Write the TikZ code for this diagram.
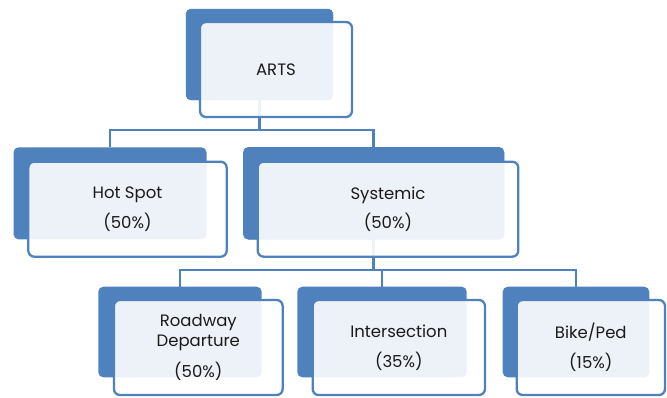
\documentclass[tikz,border=0pt]{standalone}
\usepackage{fontspec}
\setmainfont{Poppins}
\begin{document}
\begin{tikzpicture}[x=1pt,y=-1pt,
  blbox/.style={fill=myblue,draw=none,rounded corners=5pt,inner sep=0pt},
  frbox/.style={fill=white,fill opacity=0.9,text opacity=1,draw=myblue,draw opacity=1,line width=2.3pt,rounded corners=6pt,inner sep=0pt,
    align=center,font=\fontsize{16.5}{19.5}\selectfont,text=textgray},
  conn/.style={draw=myblue,line width=2.8pt}]
\definecolor{myblue}{HTML}{4F81BD}
\definecolor{textgray}{HTML}{1A1A1A}
\useasboundingbox (0,0) rectangle (667,397);
% back boxes
\node[blbox,minimum width=147pt,minimum height=91pt] (artsB) at (259.5,54.5) {};
\node[blbox,minimum width=193pt,minimum height=92pt] (hotB) at (110,193.3) {};
\node[blbox,minimum width=260.7pt,minimum height=92pt] (sysB) at (373.7,193.3) {};
\node[blbox,minimum width=163.4pt,minimum height=90.6pt] (roadB) at (180,332) {};
\node[blbox,minimum width=169.4pt,minimum height=90.6pt] (intB) at (382,332) {};
\node[blbox,minimum width=146.6pt,minimum height=90.6pt] (bikeB) at (576,332) {};
% bus coordinates
\coordinate (bus1) at (0,130);
\coordinate (bus2) at (0,270);
% connectors
\draw[conn] (artsB.center) -- (artsB.center |- bus1) -| (hotB.north);
\draw[conn] (artsB.center |- bus1) -| (sysB.north);
\draw[conn] (sysB.center) -- (sysB.center |- bus2) -| (roadB.north);
\draw[conn] (sysB.center |- bus2) -| (intB.north);
\draw[conn] (sysB.center |- bus2) -| (bikeB.north);
% redraw blue boxes over connector starts
\fill[myblue,rounded corners=5pt] (artsB.south west) rectangle (artsB.north east);
\fill[myblue,rounded corners=5pt] (sysB.south west) rectangle (sysB.north east);
% front boxes
\node[frbox,minimum width=152pt,minimum height=95pt] (arts) at (276,69.5) {ARTS};
\node[frbox,minimum width=198.4pt,minimum height=95pt] (hot) at (127.5,209.2) {Hot Spot\\[8.5pt](50\%)};
\node[frbox,minimum width=260.6pt,minimum height=95pt] (sys) at (388,209.2) {Systemic\\[8.5pt](50\%)};
\node[frbox,minimum width=168.7pt,minimum height=95pt] (road) at (198.3,347.5) {Roadway\\Departure\\[10pt](50\%)};
\node[frbox,minimum width=172.3pt,minimum height=95pt] (int) at (398.8,347.5) {Intersection\\[10pt](35\%)};
\node[frbox,minimum width=148.3pt,minimum height=95pt] (bike) at (590.8,347.5) {Bike/Ped\\[10pt](15\%)};
\end{tikzpicture}
\end{document}
